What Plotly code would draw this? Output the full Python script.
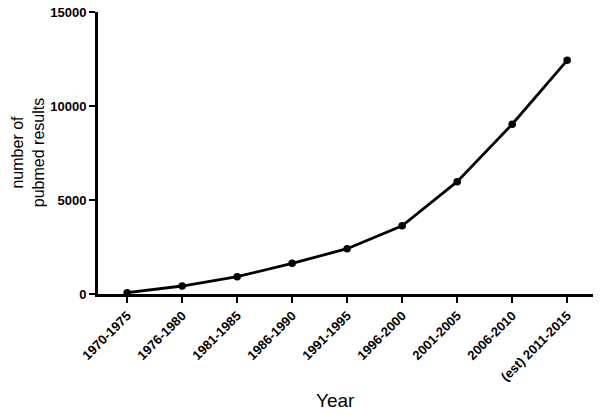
import plotly.graph_objects as go

# Data
periods = ["1970-1975", "1976-1980", "1981-1985", "1986-1990", "1991-1995",
           "1996-2000", "2001-2005", "2006-2010", "(est) 2011-2015"]
pubmed_results = [70, 425, 920, 1630, 2410, 3630, 5975, 9030, 12430]

y_ticks = [0, 5000, 10000, 15000]

FONT = "Liberation Sans, Arial, sans-serif"

fig = go.Figure()

fig.add_trace(go.Scatter(
    x=list(range(len(periods))),
    y=pubmed_results,
    mode="lines+markers",
    line=dict(color="black", width=2.8),
    marker=dict(color="black", size=7.5),
    showlegend=False,
    cliponaxis=False,
))

fig.update_layout(
    width=602,
    height=415,
    margin=dict(l=98, r=9, t=12, b=121, autoexpand=False),
    paper_bgcolor="white",
    plot_bgcolor="white",
    font=dict(family=FONT, color="black"),
)

fig.update_xaxes(
    range=[-0.53, 8.47],
    tickmode="array",
    tickvals=list(range(len(periods))),
    ticktext=[f"<b>{p}</b>" for p in periods],
    tickangle=-45,
    tickfont=dict(size=13, family=FONT),
    ticks="outside",
    ticklen=6,
    tickwidth=2,
    tickcolor="black",
    showline=True,
    linewidth=3,
    linecolor="black",
    showgrid=False,
    zeroline=False,
    automargin=False,
)

fig.update_yaxes(
    range=[0, 15000],
    tickmode="array",
    tickvals=y_ticks,
    ticktext=[f"<b>{v}</b>" for v in y_ticks],
    tickfont=dict(size=13, family=FONT),
    ticks="outside",
    ticklen=6,
    tickwidth=2,
    tickcolor="black",
    showline=True,
    linewidth=3,
    linecolor="black",
    showgrid=False,
    zeroline=False,
    automargin=False,
)

# axis titles placed as annotations to match the reference positions
fig.add_annotation(
    text="number of<br>pubmed results",
    xref="paper", yref="paper", x=-0.141, y=0.5,
    xanchor="center", yanchor="middle",
    textangle=-90, showarrow=False,
    font=dict(size=16, family=FONT, color="black"),
)
fig.add_annotation(
    text="Year",
    xref="paper", yref="paper", x=0.479, y=-0.376,
    xanchor="center", yanchor="middle",
    showarrow=False,
    font=dict(size=19, family=FONT, color="black"),
)

# remove the default page margin so the figure fills the window
fig.write_html(
    "out.html",
    config={"displayModeBar": False},
    post_script="document.body.style.margin='0';",
)
